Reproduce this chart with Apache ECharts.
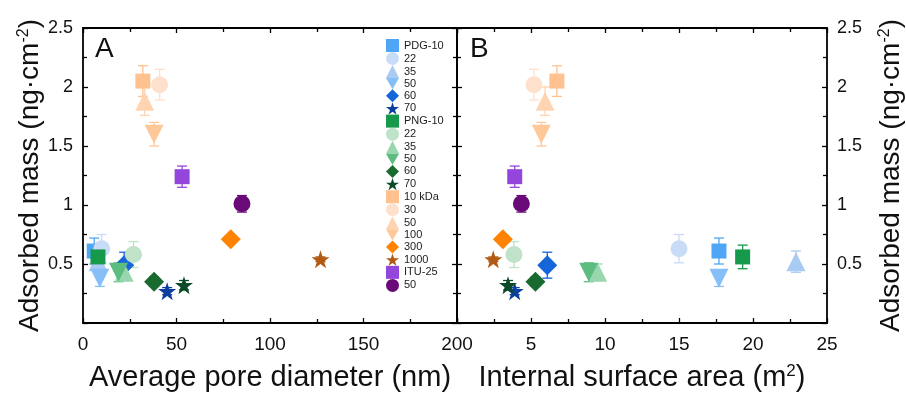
<!DOCTYPE html>
<html>
<head>
<meta charset="utf-8">
<script src="https://cdn.jsdelivr.net/npm/echarts@6/dist/echarts.min.js"></script>
<style>
  html, body { margin: 0; padding: 0; background: #fff; }
  #chart { width: 906px; height: 397px; }
</style>
</head>
<body>
<div id="chart"></div>
<script>
// samples, in legend order
const sampleNames = [
  "PDG-10", "PDG-22", "PDG-35", "PDG-50", "PDG-60", "PDG-70",
  "PNG-10", "PNG-22", "PNG-35", "PNG-50", "PNG-60", "PNG-70",
  "10 kDa", "30 kDa", "50 kDa", "100 kDa", "300 kDa", "1000 kDa",
  "ITU-25", "ITU-50",
];
const legendLabels = [
  "PDG-10", "22", "35", "50", "60", "70",
  "PNG-10", "22", "35", "50", "60", "70",
  "10 kDa", "30", "50", "100", "300", "1000",
  "ITU-25", "50",
];
// panel A x values
const poreDiameter = [6, 10, 8, 9, 22, 45, 8, 27, 22, 19, 38, 54, 32, 41, 33, 38, 79, 127, 53, 85];
// panel B x values
const surfaceArea = [17.7, 15.0, 22.9, 17.7, 6.1, 3.9, 19.3, 3.85, 9.5, 8.9, 5.3, 3.45, 6.75, 5.2, 5.95, 5.7, 3.1, 2.45, 3.9, 4.35];
// adsorbed mass (ng/cm2) and its error
const adsorbedMass = [0.61, 0.63, 0.52, 0.38, 0.49, 0.27, 0.56, 0.58, 0.43, 0.43, 0.35, 0.32, 2.05, 2.02, 1.88, 1.60, 0.71, 0.54, 1.24, 1.01];
const massError = [0.11, 0.12, 0.09, 0.07, 0.11, 0.03, 0.1, 0.11, 0.07, 0.08, 0.04, 0.04, 0.13, 0.13, 0.12, 0.1, 0.02, 0.02, 0.09, 0.07];

const xTicksA = [0, 50, 100, 150, 200];
const xTicksB = [0, 5, 10, 15, 20, 25];
const yTicks = [0, 0.5, 1, 1.5, 2, 2.5];

const STAR = "path://M50,0 L61.8,35.1 L98.5,35.1 L68.8,56.8 L80.2,91.9 L50,70.2 L19.8,91.9 L31.2,56.8 L1.5,35.1 L38.2,35.1 Z";
const DOWN = "path://M0,0 L100,0 L50,87 Z";
const shapes = ["rect", "circle", "triangle", DOWN, "diamond", STAR];
const shapeSize = { rect: 15, circle: 17, triangle: 19, diamond: 20 };
shapeSize[DOWN] = 19;
shapeSize[STAR] = 18;

const colors = [
  "#4ea6f5", "#c8dcf7", "#a9cbf3", "#86bff7", "#1566d8", "#0b3f9f",
  "#16994a", "#bfe2c8", "#98d6ad", "#5dbd80", "#186a2f", "#0d4a27",
  "#ffc190", "#ffe0cc", "#ffd4b2", "#ffc898", "#ff8200", "#b35a12",
  "#9446dc", "#6a0a78",
];
const symbolOf = (i) => (i >= 18 ? (i === 18 ? "rect" : "circle") : shapes[i % 6]);

const FONT = "Liberation Sans, Arial, sans-serif";

function errorSeries(xs, axisIdx) {
  return {
    type: "custom",
    name: "err" + axisIdx,
    xAxisIndex: axisIdx,
    yAxisIndex: axisIdx,
    silent: true,
    z: 1,
    data: xs.map((x, i) => [x, adsorbedMass[i], massError[i], i]),
    renderItem: (params, api) => {
      const x = api.value(0), y = api.value(1), e = api.value(2), ci = api.value(3);
      const top = api.coord([x, y + e]);
      const bot = api.coord([x, y - e]);
      const style = { stroke: colors[ci], lineWidth: 1.3 };
      const w = 5;
      return {
        type: "group",
        children: [
          { type: "line", shape: { x1: top[0], y1: top[1], x2: bot[0], y2: bot[1] }, style },
          { type: "line", shape: { x1: top[0] - w, y1: top[1], x2: top[0] + w, y2: top[1] }, style },
          { type: "line", shape: { x1: bot[0] - w, y1: bot[1], x2: bot[0] + w, y2: bot[1] }, style },
        ],
      };
    },
  };
}

function pointSeries(xs, axisIdx) {
  return sampleNames.map((name, i) => ({
    type: "scatter",
    name: name,
    xAxisIndex: axisIdx,
    yAxisIndex: axisIdx,
    z: 3,
    symbol: symbolOf(i),
    symbolSize: shapeSize[symbolOf(i)],
    itemStyle: { color: colors[i], opacity: 1 },
    data: [[xs[i], adsorbedMass[i]]],
  }));
}

const axisLine = { show: true, onZero: false, lineStyle: { color: "#000", width: 1.8 } };
const axisTick = { show: true, inside: true, length: 5, lineStyle: { color: "#000", width: 1.3 } };
const minorTick = { show: true, splitNumber: 2, length: 4, lineStyle: { color: "#000", width: 1.3 } };
function nameStyle(size) {
  return {
    fontFamily: FONT, fontSize: size, color: "#111",
    rich: { sup: { fontFamily: FONT, fontSize: Math.round(size * 0.58), verticalAlign: "top", color: "#111" } },
  };
}

function xAxis(grid, pos, ticks, withLabels, name) {
  return {
    type: "value", gridIndex: grid, position: pos,
    min: ticks[0], max: ticks[ticks.length - 1], interval: ticks[1] - ticks[0],
    axisLine, axisTick, minorTick, splitLine: { show: false },
    axisLabel: {
      show: withLabels, margin: 12, fontFamily: FONT, fontSize: 19, color: "#111",
      formatter: (v) => (grid === 1 && v === 0 ? "" : String(v)),
    },
    name: name || "", nameLocation: "middle", nameGap: 40, nameTextStyle: nameStyle(29),
  };
}

function yAxis(grid, pos, withLabels, name, gap) {
  return {
    type: "value", gridIndex: grid, position: pos,
    min: yTicks[0], max: yTicks[yTicks.length - 1], interval: yTicks[1] - yTicks[0],
    axisLine, axisTick, minorTick, splitLine: { show: false },
    axisLabel: {
      show: withLabels, margin: 10, fontFamily: FONT, fontSize: 18, color: "#111",
      formatter: (v) => (v === 0 ? "" : String(v)),
    },
    name: name || "", nameLocation: "middle", nameRotate: 90, nameGap: gap || 40, nameTextStyle: nameStyle(28),
  };
}

const yName = "Adsorbed mass (ng·cm{sup|-2})";

const option = {
  animation: false,
  backgroundColor: "#fff",
  title: [
    { text: "A", left: 90, top: 30, textStyle: { fontFamily: FONT, fontSize: 28, fontWeight: "normal", color: "#111" } },
    { text: "B", left: 465, top: 30, textStyle: { fontFamily: FONT, fontSize: 28, fontWeight: "normal", color: "#111" } },
  ],
  legend: {
    data: sampleNames,
    orient: "vertical",
    left: 381,
    top: 34,
    itemWidth: 13,
    itemHeight: 13,
    itemGap: 0,
    selectedMode: false,
    formatter: (name) => legendLabels[sampleNames.indexOf(name)],
    textStyle: { fontFamily: FONT, fontSize: 11, color: "#222" },
  },
  grid: [
    { left: 83, right: 449, top: 28, bottom: 72 },
    { left: 457, right: 77, top: 28, bottom: 72 },
  ],
  xAxis: [
    xAxis(0, "bottom", xTicksA, true, "Average pore diameter (nm)"),
    xAxis(0, "top", xTicksA, false),
    xAxis(1, "bottom", xTicksB, true, "Internal surface area (m{sup|2})"),
    xAxis(1, "top", xTicksB, false),
  ],
  yAxis: [
    yAxis(0, "left", true, yName, 37),
    yAxis(0, "right", false),
    yAxis(1, "left", false),
    yAxis(1, "right", true, yName, 50),
  ],
  series: [
    errorSeries(poreDiameter, 0),
    errorSeries(surfaceArea, 2),
    ...pointSeries(poreDiameter, 0),
    ...pointSeries(surfaceArea, 2),
  ],
};

// the custom/scatter series are tied to axis pairs 0 (panel A) and 2 (panel B)
const chart = echarts.init(document.getElementById("chart"), null, { renderer: "canvas" });
chart.setOption(option);
</script>
</body>
</html>
